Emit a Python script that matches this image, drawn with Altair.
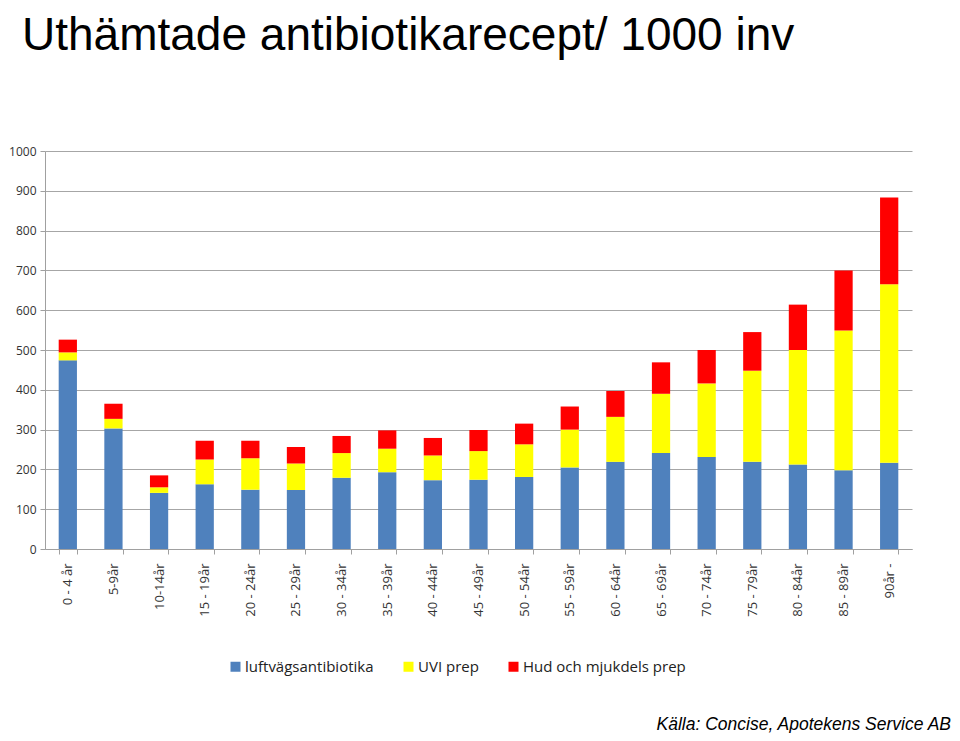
import altair as alt
import pandas as pd

title_text = "Uthämtade antibiotikarecept/ 1000 inv"
source_text = "Källa: Concise, Apotekens Service AB"

ages = ["0 - 4 år", "5-9år", "10-14år", "15 - 19år", "20 - 24år", "25 - 29år",
        "30 - 34år", "35 - 39år", "40 - 44år", "45 - 49år", "50 - 54år",
        "55 - 59år", "60 - 64år", "65 - 69år", "70 - 74år", "75 - 79år",
        "80 - 84år", "85 - 89år", "90år -"]

series = ["luftvägsantibiotika", "UVI prep", "Hud och mjukdels prep"]
colors = ["#4F81BD", "#FFFF00", "#FF0000"]

luftvag = [474, 303, 141, 163, 149, 148, 179, 193, 173, 174, 181, 205, 219, 241, 231, 219, 212, 198, 217]
uvi = [20, 24, 14, 62, 79, 67, 62, 59, 62, 72, 82, 95, 113, 149, 185, 229, 288, 351, 448]
hud = [32, 38, 30, 47, 44, 41, 43, 46, 44, 53, 52, 58, 65, 79, 84, 97, 114, 151, 218]

rows = []
for i, a in enumerate(ages):
    for j, (s, vals) in enumerate(zip(series, [luftvag, uvi, hud])):
        rows.append({"age": a, "serie": s, "value": vals[i], "ord": j})
df = pd.DataFrame(rows)

LBL_FONT = "Open Sans"

bars = alt.Chart(df).mark_bar().encode(
    x=alt.X("age:N", sort=ages,
            scale=alt.Scale(paddingInner=0.6, paddingOuter=0.3),
            axis=alt.Axis(title=None, labelAngle=-90, labelAlign="right",
                          labelBaseline="middle", labelPadding=9, tickSize=5,
                          tickBand="extent", tickColor="#a0a0a0",
                          domainColor="#a0a0a0", labelFont=LBL_FONT,
                          labelFontSize=13, labelColor="#333333", grid=False)),
    y=alt.Y("value:Q", stack="zero",
            scale=alt.Scale(domain=[0, 1000]),
            axis=alt.Axis(title=None, values=list(range(0, 1001, 100)),
                          format="d",
                          tickSize=5, labelPadding=4, tickColor="#a0a0a0",
                          domainColor="#a0a0a0", gridColor="#a6a6a6",
                          labelFont=LBL_FONT, labelFontSize=12,
                          labelColor="#333333")),
    color=alt.Color("serie:N", sort=series,
                    scale=alt.Scale(domain=series, range=colors),
                    legend=alt.Legend(title=None, orient="none", direction="horizontal",
                                      legendX=183, legendY=508, symbolType="square",
                                      symbolSize=100, symbolStrokeWidth=0,
                                      labelFont=LBL_FONT, labelFontSize=15,
                                      labelColor="#222222", columnPadding=27,
                                      labelOffset=2, padding=0, labelLimit=400)),
    order=alt.Order("ord:Q", sort="ascending"),
)

title = alt.Chart(pd.DataFrame({"t": [title_text]})).mark_text(
    align="left", baseline="alphabetic", font="Liberation Sans", fontSize=46,
    color="#000000"
).encode(x=alt.value(-23), y=alt.value(-101), text="t:N")

source = alt.Chart(pd.DataFrame({"t": [source_text]})).mark_text(
    align="right", baseline="alphabetic", font="Liberation Sans", fontSize=17.5,
    fontStyle="italic", color="#000000"
).encode(x=alt.value(906), y=alt.value(579), text="t:N")

chart = alt.layer(bars, title, source).properties(
    width=867, height=398,
    padding={"left": 37, "top": 143, "right": 40, "bottom": 184},
    autosize=alt.AutoSizeParams(type="none"),
).configure_view(stroke=None)

chart.save("out.html", embed_options={"renderer": "svg", "actions": False})
